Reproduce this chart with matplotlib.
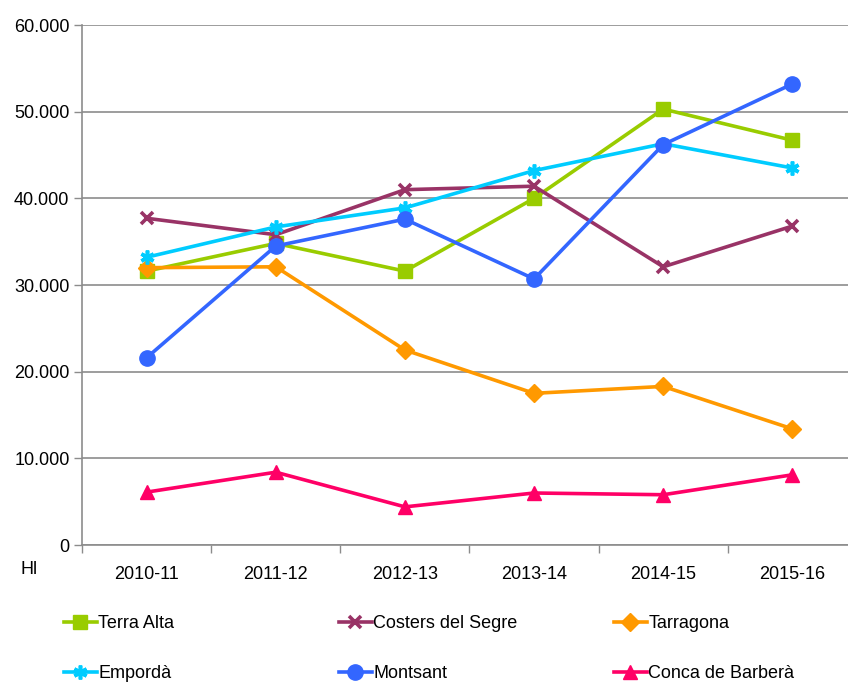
import matplotlib.pyplot as plt
from matplotlib.ticker import FuncFormatter, MultipleLocator
import numpy as np

plt.rcParams['font.family'] = ['Liberation Sans', 'DejaVu Sans']

seasons = ["2010-11", "2011-12", "2012-13", "2013-14", "2014-15", "2015-16"]

terra_alta = [31600, 34800, 31600, 40000, 50300, 46700]
costers_del_segre = [37700, 35800, 41000, 41400, 32100, 36800]
tarragona = [32000, 32100, 22500, 17500, 18300, 13400]
emporda = [33200, 36700, 38900, 43200, 46300, 43500]
montsant = [21600, 34500, 37600, 30700, 46200, 53200]
conca_de_barbera = [6100, 8400, 4400, 6000, 5800, 8100]

SERIES = [
    ("Terra Alta", terra_alta, "#99CC00", "s"),
    ("Costers del Segre", costers_del_segre, "#993366", "x"),
    ("Tarragona", tarragona, "#FF9900", "D"),
    ("Empordà", emporda, "#00CCFF", (6, 2, 0)),
    ("Montsant", montsant, "#3366FF", "o"),
    ("Conca de Barberà", conca_de_barbera, "#FF0066", "^"),
]
SIZES = {"s": 10.5, "x": 9, "D": 9, (6, 2, 0): 10, "o": 11, "^": 10}

FS = 13

fig = plt.figure(figsize=(8.48, 6.84), dpi=100)
ax = fig.add_axes([82 / 848, 1 - 545 / 684, (857 - 82) / 848, (545 - 25) / 684])

x = np.arange(len(seasons))
handles = []
for name, vals, color, marker in SERIES:
    mew = 2.6 if marker in ("x", (6, 2, 0)) else 1
    h, = ax.plot(x, vals, color=color, linewidth=2.6, marker=marker,
                 markersize=SIZES[marker], markeredgewidth=mew, markeredgecolor=color,
                 label=name, clip_on=False)
    handles.append(h)

ax.set_xlim(-0.5, 5.5)
ax.set_ylim(0, 60000)
ax.yaxis.set_major_locator(MultipleLocator(10000))
ax.yaxis.set_major_formatter(FuncFormatter(
    lambda v, p: "0" if v == 0 else f"{int(v):,}".replace(",", ".")))
ax.grid(axis="y", color="#8c8c8c", linewidth=1.2)
ax.set_axisbelow(True)

ax.set_xticks(x)
ax.set_xticklabels(seasons)
ax.set_xticks(np.arange(-0.5, 6, 1), minor=True)
ax.tick_params(axis="x", which="major", length=0, pad=15, labelsize=FS)
ax.tick_params(axis="x", which="minor", length=6, color="#8c8c8c", width=1)
ax.tick_params(axis="y", length=6, color="#8c8c8c", width=1, labelsize=FS, pad=3)

for s in ("top", "right"):
    ax.spines[s].set_visible(False)
for s in ("left", "bottom"):
    ax.spines[s].set_color("#8c8c8c")
    ax.spines[s].set_linewidth(1.2)

fig.text(20 / 848, 1 - 570 / 684, "Hl", fontsize=FS, va="center", ha="left")

# legend: 3 columns at fixed positions, filled row by row
col_x = [64, 339, 614]
for i in range(3):
    leg = fig.legend(handles=[handles[i], handles[i + 3]], loc="upper left",
                     bbox_to_anchor=(col_x[i] / 848, 1 - 615 / 684),
                     frameon=False, fontsize=FS, handlelength=1.8,
                     handletextpad=0.1, labelspacing=1.85, borderaxespad=0,
                     borderpad=0)

fig.savefig("out.png", dpi=100)
